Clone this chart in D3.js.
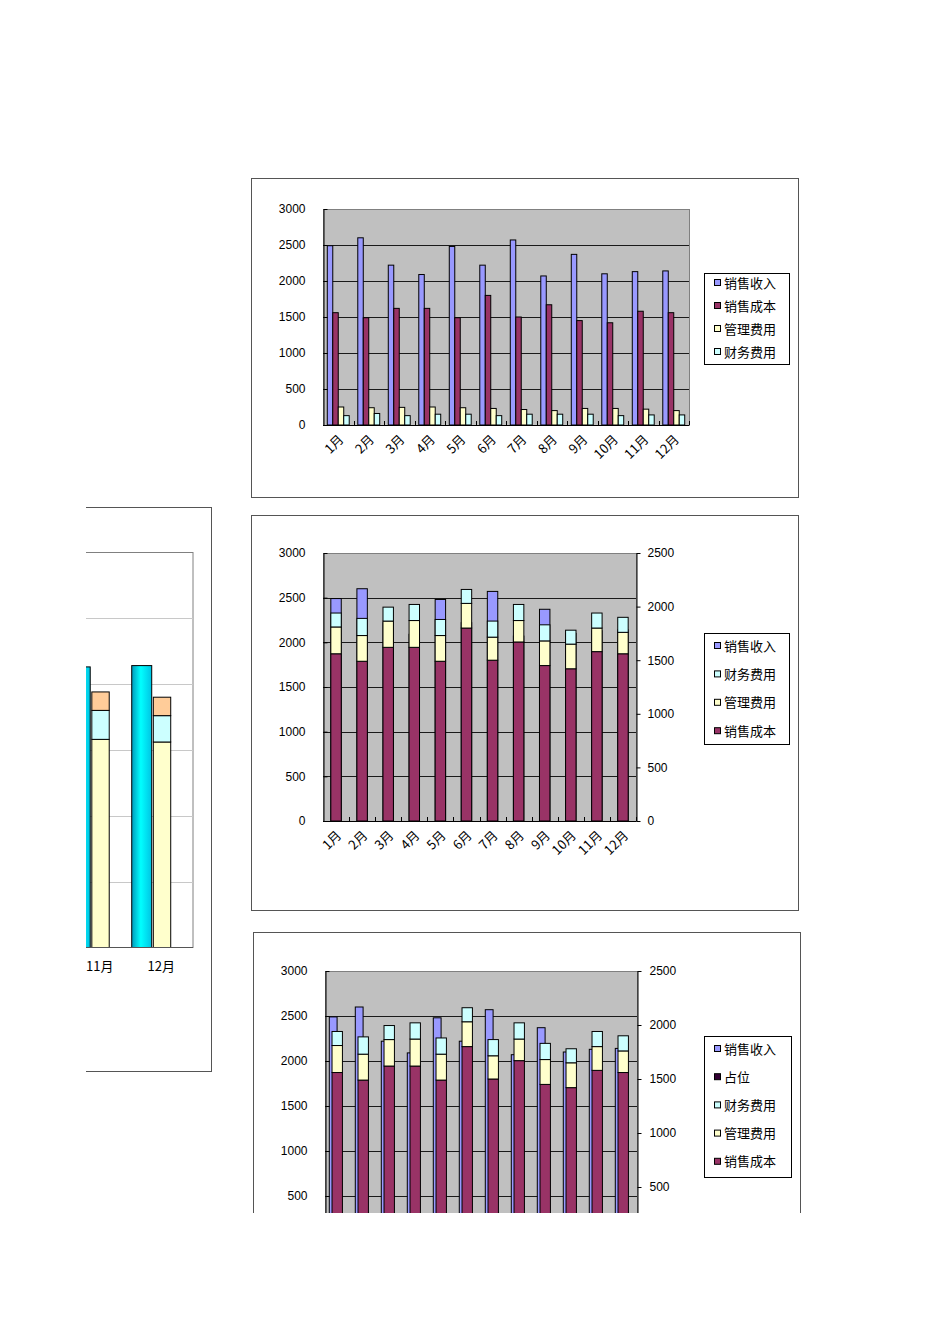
<!DOCTYPE html>
<html>
<head>
<meta charset="utf-8">
<script src="https://cdn.jsdelivr.net/npm/d3@7"></script>
<style>
body { margin: 0; background: #fff; }
svg { display: block; }
.cjk { font-family: "Noto Sans CJK SC", sans-serif; font-size: 12px; }
</style>
</head>
<body>
<svg width="950" height="1344"></svg>
<script>
// data
const months = ['1月', '2月', '3月', '4月', '5月', '6月', '7月', '8月', '9月', '10月', '11月', '12月'];
const revenue = [2490, 2600, 2220, 2090, 2480, 2220, 2570, 2070, 2370, 2100, 2130, 2140];   // 销售收入
const cost = [1560, 1490, 1620, 1620, 1490, 1800, 1500, 1670, 1450, 1420, 1580, 1560];      // 销售成本
const admin = [250, 240, 245, 250, 240, 230, 215, 200, 230, 230, 220, 200];                 // 管理费用
const finance = [130, 160, 130, 150, 150, 130, 150, 150, 150, 130, 140, 140];               // 财务费用
const placeholder = [0, 0, 0, 0, 0, 0, 0, 0, 0, 0, 0, 0];                                   // 占位
const leftTicks = [0, 500, 1000, 1500, 2000, 2500, 3000];
const rightTicks = [0, 500, 1000, 1500, 2000, 2500];

const names = { revenue: '销售收入', cost: '销售成本', admin: '管理费用', finance: '财务费用', placeholder: '占位' };
const colors = { revenue: '#9999ff', cost: '#993366', admin: '#ffffcc', finance: '#ccffff', placeholder: '#330033' };

const svg = d3.select('svg');
const defs = svg.append('defs');
defs.append('clipPath').attr('id', 'clipLeft')
    .append('rect').attr('x', 86).attr('y', 0).attr('width', 200).attr('height', 1344);
defs.append('clipPath').attr('id', 'clipBottom')
    .append('rect').attr('x', 0).attr('y', 0).attr('width', 950).attr('height', 1213);
const grad = defs.append('linearGradient').attr('id', 'cyanGrad').attr('x1', '0%').attr('x2', '100%');
grad.append('stop').attr('offset', '0%').attr('stop-color', '#0099bb');
grad.append('stop').attr('offset', '45%').attr('stop-color', '#00ffff');
grad.append('stop').attr('offset', '100%').attr('stop-color', '#00c4e4');

const rows = months.map((m, i) => ({
    month: m, revenue: revenue[i], cost: cost[i], admin: admin[i], finance: finance[i], placeholder: placeholder[i]
}));
const stacked = d3.stack().keys(['cost', 'admin', 'finance'])(rows);

function frame(g, x, y, w, h) {
    g.append('rect')
        .attr('x', x + 0.5).attr('y', y + 0.5).attr('width', w).attr('height', h)
        .attr('fill', '#fff').attr('stroke', '#555');
}

function plotBg(g, x0, x1, y0, y1, fill) {
    g.append('rect')
        .attr('x', x0 + 0.5).attr('y', y1 + 0.5).attr('width', x1 - x0).attr('height', y0 - y1)
        .attr('fill', fill).attr('stroke', '#808080');
}

function grid(g, y, x0, x1, values, color) {
    g.append('g').selectAll('line').data(values).join('line')
        .attr('x1', x0).attr('x2', x1)
        .attr('y1', d => Math.round(y(d)) + 0.5).attr('y2', d => Math.round(y(d)) + 0.5)
        .attr('stroke', color);
}

function styleAxis(a) {
    a.attr('font-size', 12).attr('font-family', '"Liberation Sans", Arial, sans-serif');
    a.selectAll('path, line').attr('stroke', '#000');
    a.selectAll('text').attr('fill', '#000');
}

function leftAxis(g, y, x, pad) {
    g.append('g').attr('transform', `translate(${x + 0.5},0)`)
        .call(d3.axisLeft(y).tickValues(leftTicks).tickFormat(d3.format('d'))
            .tickSize(-4).tickSizeOuter(0).tickPadding(pad))
        .call(styleAxis);
}

function rightAxis(g, y, x, pad) {
    g.append('g').attr('transform', `translate(${x + 0.5},0)`)
        .call(d3.axisRight(y).tickValues(rightTicks).tickFormat(d3.format('d'))
            .tickSize(4).tickSizeOuter(0).tickPadding(pad))
        .call(styleAxis);
}

function xAxis(g, x, y0) {
    const [r0, r1] = x.range();
    g.append('line').attr('x1', r0).attr('x2', r1)
        .attr('y1', y0 + 0.5).attr('y2', y0 + 0.5).attr('stroke', '#000');
    g.append('g').selectAll('line').data(months.slice(1).concat(['end'])).join('line')
        .attr('x1', d => Math.round(d === 'end' ? r1 : x(d)) + 0.5)
        .attr('x2', d => Math.round(d === 'end' ? r1 : x(d)) + 0.5)
        .attr('y1', y0).attr('y2', y0 - 4).attr('stroke', '#000');
}

function xLabels(g, x, y0, dx, dy) {
    g.append('g').selectAll('text').data(months).join('text')
        .attr('class', 'cjk').style('font-size', '13px')
        .attr('transform', d => `translate(${x(d) + x.bandwidth() / 2 + dx},${y0 + dy}) rotate(-45)`)
        .attr('text-anchor', 'end').attr('dy', '0.35em')
        .text(d => d);
}

function legend(g, keys, x, y, w, h, firstY, step) {
    g.append('rect').attr('x', x + 0.5).attr('y', y + 0.5).attr('width', w).attr('height', h)
        .attr('fill', '#fff').attr('stroke', '#000');
    const it = g.append('g').selectAll('g').data(keys).join('g')
        .attr('transform', (d, i) => `translate(${x + 10},${firstY + i * step})`);
    it.append('rect').attr('x', 0.5).attr('y', -3.5).attr('width', 6).attr('height', 6)
        .attr('fill', d => colors[d]).attr('stroke', '#000');
    it.append('text').attr('class', 'cjk').style('font-size', '13px')
        .attr('x', 10).attr('dy', '0.36em').text(d => names[d]);
}

// ---------- top chart: clustered columns ----------
{
    const g = svg.append('g');
    frame(g, 251, 178, 547, 319);
    const x = d3.scaleBand().domain(months).range([323, 689]);
    const y = d3.scaleLinear().domain([0, 3000]).range([425, 209]);
    const keys = ['revenue', 'cost', 'admin', 'finance'];
    const xs = d3.scaleBand().domain(keys).range([0, x.bandwidth()]).paddingOuter(0.78);
    plotBg(g, 323, 689, 425, 209, '#c0c0c0');
    grid(g, y, 323, 689, [500, 1000, 1500, 2000, 2500], '#1a1a1a');
    keys.forEach(k => {
        g.append('g').selectAll('rect').data(rows).join('rect')
            .attr('x', d => x(d.month) + xs(k))
            .attr('y', d => y(d[k]))
            .attr('width', xs.bandwidth())
            .attr('height', d => y(0) - y(d[k]))
            .attr('fill', colors[k]).attr('stroke', '#000');
    });
    xAxis(g, x, 425);
    leftAxis(g, y, 323, 18);
    xLabels(g, x, 425, 3, 12);
    legend(g, keys, 704, 273, 85, 91, 283, 23);
}

// ---------- middle chart: revenue (primary) behind stacked costs (secondary) ----------
{
    const g = svg.append('g');
    frame(g, 251, 515, 547, 395);
    const x = d3.scaleBand().domain(months).range([323, 636]);
    const yL = d3.scaleLinear().domain([0, 3000]).range([821, 553]);
    const yR = d3.scaleLinear().domain([0, 2500]).range([821, 553]);
    const bw = x.bandwidth() * 0.4;
    const bx = d => x(d) + (x.bandwidth() - bw) / 2;
    plotBg(g, 323, 636, 821, 553, '#c0c0c0');
    grid(g, yL, 323, 636, [500, 1000, 1500, 2000, 2500], '#1a1a1a');
    g.append('g').selectAll('rect').data(rows).join('rect')
        .attr('x', d => bx(d.month)).attr('y', d => yL(d.revenue))
        .attr('width', bw).attr('height', d => yL(0) - yL(d.revenue))
        .attr('fill', colors.revenue).attr('stroke', '#000');
    stacked.forEach(s => {
        g.append('g').selectAll('rect').data(s).join('rect')
            .attr('x', d => bx(d.data.month)).attr('y', d => yR(d[1]))
            .attr('width', bw).attr('height', d => yR(d[0]) - yR(d[1]))
            .attr('fill', colors[s.key]).attr('stroke', '#000');
    });
    xAxis(g, x, 821);
    leftAxis(g, yL, 323, 18);
    rightAxis(g, yR, 636, 7);
    xLabels(g, x, 821, 3, 12);
    legend(g, ['revenue', 'finance', 'admin', 'cost'], 704, 633, 85, 111, 646, 28.4);
}

// ---------- bottom chart: revenue offset left, stacked costs offset right (cut off) ----------
{
    const g = svg.append('g').attr('clip-path', 'url(#clipBottom)');
    frame(g, 253, 932, 547, 400);
    const x = d3.scaleBand().domain(months).range([325, 637]);
    const yL = d3.scaleLinear().domain([0, 3000]).range([1241, 971]);
    const yR = d3.scaleLinear().domain([0, 2500]).range([1241, 971]);
    const bwp = x.bandwidth();
    plotBg(g, 325, 637, 1241, 971, '#c0c0c0');
    grid(g, yL, 325, 637, [500, 1000, 1500, 2000, 2500], '#1a1a1a');
    g.append('g').selectAll('rect').data(rows).join('rect')
        .attr('x', d => x(d.month) + bwp * 0.165).attr('y', d => yL(d.revenue))
        .attr('width', bwp * 0.3).attr('height', d => yL(0) - yL(d.revenue))
        .attr('fill', colors.revenue).attr('stroke', '#000');
    stacked.forEach(s => {
        g.append('g').selectAll('rect').data(s).join('rect')
            .attr('x', d => x(d.data.month) + bwp * 0.27).attr('y', d => yR(d[1]))
            .attr('width', bwp * 0.4).attr('height', d => yR(d[0]) - yR(d[1]))
            .attr('fill', colors[s.key]).attr('stroke', '#000');
    });
    leftAxis(g, yL, 325, 18);
    rightAxis(g, yR, 637, 8);
    legend(g, ['revenue', 'placeholder', 'finance', 'admin', 'cost'], 704, 1036, 87, 141, 1049, 28.2);
}

// ---------- left chart: only its right edge is visible ----------
{
    const g = svg.append('g').attr('clip-path', 'url(#clipLeft)');
    frame(g, -600, 507, 811, 564);
    const x = d3.scaleBand().domain(months).range([192 - 12 * 61.5, 192]);
    const y = d3.scaleLinear().domain([0, 3000]).range([947.5, 552.3]);
    const bw = x.bandwidth();
    g.append('rect').attr('x', -600).attr('y', 552.5).attr('width', 793).attr('height', 395)
        .attr('fill', '#fff').attr('stroke', '#808080');
    grid(g, y, -600, 193, [500, 1000, 1500, 2000, 2500], '#c8c8c8');
    g.append('g').selectAll('rect').data(rows).join('rect')
        .attr('x', d => x(d.month) + bw * 0.02).attr('y', d => y(d.revenue))
        .attr('width', bw * 0.325).attr('height', d => y(0) - y(d.revenue))
        .attr('fill', 'url(#cyanGrad)').attr('stroke', '#000');
    const leftColors = { cost: '#ffffcc', admin: '#ccffff', finance: '#ffcc99' };
    stacked.forEach(s => {
        g.append('g').selectAll('rect').data(s).join('rect')
            .attr('x', d => x(d.data.month) + bw * 0.371).attr('y', d => y(d[1]))
            .attr('width', bw * 0.283).attr('height', d => y(d[0]) - y(d[1]))
            .attr('fill', leftColors[s.key]).attr('stroke', '#000');
    });
    g.append('line').attr('x1', -600).attr('x2', 193).attr('y1', 947.5).attr('y2', 947.5).attr('stroke', '#555');
    // only the labels that fall inside the visible part of this chart
    g.append('g').selectAll('text').data(months.filter(m => x(m) + bw / 2 > 86)).join('text')
        .attr('class', 'cjk').style('font-size', '13px')
        .attr('x', d => x(d) + bw / 2).attr('y', 971)
        .attr('text-anchor', 'middle').text(d => d);
}
</script>
</body>
</html>
